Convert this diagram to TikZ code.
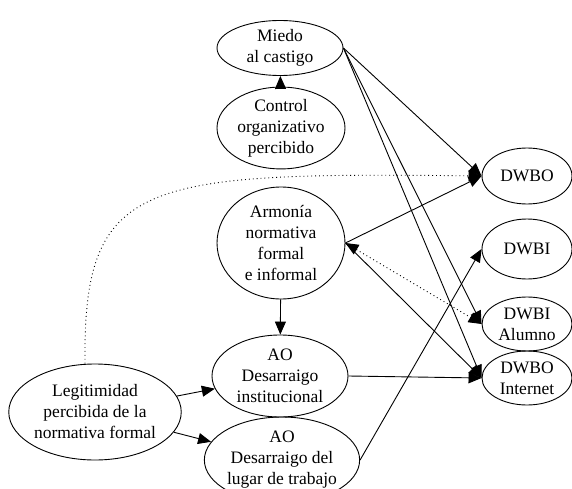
\documentclass[tikz,border=0pt]{standalone}
\usepackage{fontspec}
\setmainfont{Liberation Serif}
\newfontfamily\tnrfont{Liberation Serif}
\usetikzlibrary{shapes.geometric,arrows.meta}
\begin{document}
\begin{tikzpicture}[x=1pt,y=-1pt,
  every node/.style={font=\tnrfont\fontsize{17.5}{21}\selectfont},
  var/.style={draw,ellipse,inner sep=0pt,align=center,line width=0.9pt},
  arr/.style={line width=0.9pt,-{Triangle[length=13pt,width=11pt]}},
  darr/.style={line width=0.9pt,dash pattern=on 0.9pt off 3pt,-{Triangle[length=13pt,width=11pt]}},
  ddarr/.style={line width=0.9pt,dash pattern=on 0.9pt off 3pt,{Triangle[length=13pt,width=11pt]}-{Triangle[length=13pt,width=11pt]}}]
\useasboundingbox (0,0) rectangle (572,489);
\node[var,minimum width=126pt,minimum height=55pt] (miedo) at (280,48) {Miedo\\al castigo};
\node[var,minimum width=128pt,minimum height=70pt] (control) at (281,128) {Control\\organizativo\\percibido};
\node[var,minimum width=128pt,minimum height=112pt] (armonia) at (281,243) {Armonía\\normativa\\formal\\e informal};
\node[var,minimum width=136pt,minimum height=82pt] (aoinst) at (280,376) {AO\\Desarraigo\\institucional};
\node[var,minimum width=140pt,minimum height=86pt] (aolugar) at (282,460) {AO\\Desarraigo del\\lugar de trabajo};
\node[var,minimum width=166pt,minimum height=96pt] (legit) at (95,412) {Legitimidad\\percibida de la\\normativa formal};
\node[var,minimum width=90pt,minimum height=56pt] (dwbo) at (527,176) {DWBO};
\node[var,minimum width=90pt,minimum height=60pt] (dwbi) at (527,249) {DWBI};
\node[var,minimum width=90pt,minimum height=54pt] (alumno) at (527,324) {DWBI\\Alumno};
\node[var,minimum width=90pt,minimum height=54pt] (internet) at (527,378) {DWBO\\Internet};

\draw[arr] (control) -- (miedo);
\draw[arr] (miedo.east) -- (dwbo.west);
\draw[arr] (miedo.east) -- (alumno.west);
\draw[arr] (miedo.east) -- (internet.west);
\draw[arr] (armonia.east) -- (dwbo.west);
\draw[ddarr] (armonia.east) -- (alumno.west);
\draw[arr] (armonia.east) -- (internet.west);
\draw[arr] (armonia) -- (aoinst);
\draw[arr] (legit) -- (aoinst);
\draw[arr] (legit) -- (aolugar);
\draw[arr] (aoinst.east) -- (internet.west);
\draw[arr] (aolugar.east) -- (dwbi.west);
\draw[darr] (legit.north -| 85,0) .. controls (83,180) and (140,172) .. (dwbo.west);
\end{tikzpicture}
\end{document}
